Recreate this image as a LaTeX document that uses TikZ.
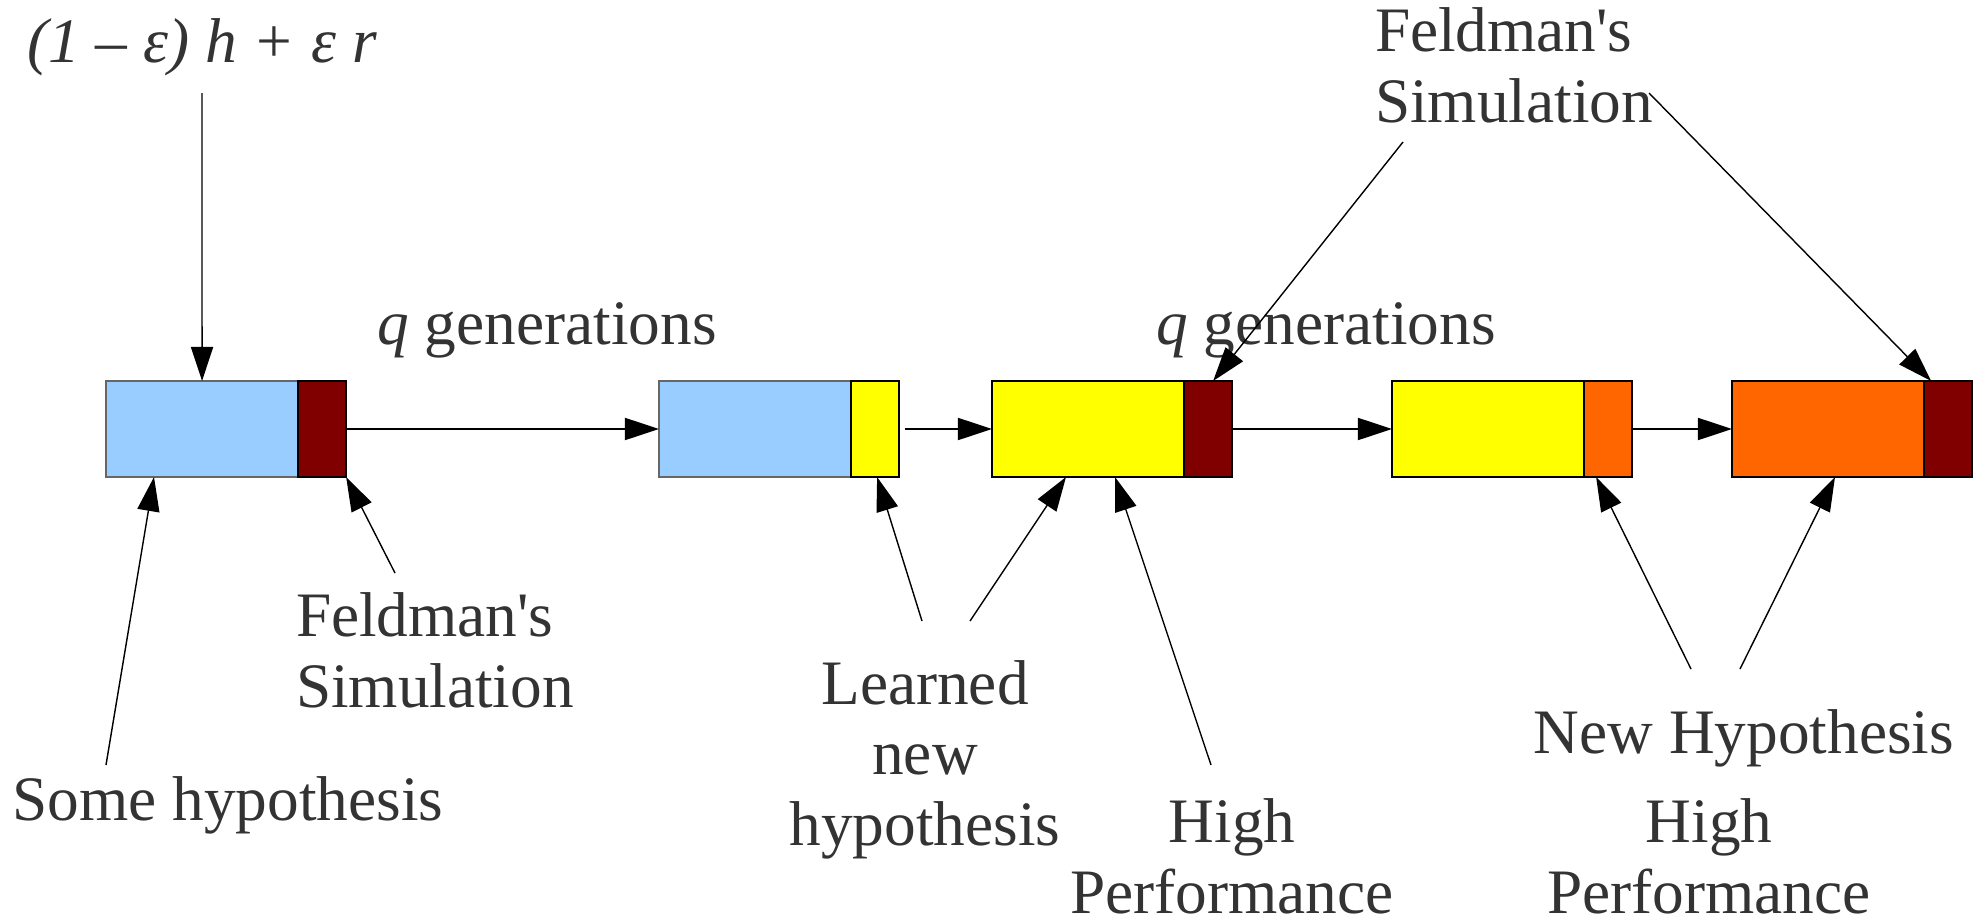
\documentclass[tikz,border=0pt]{standalone}
\usepackage{fontspec}
\setmainfont{Liberation Serif}[Ligatures=TeXOff]
\usetikzlibrary{arrows.meta,calc}
\definecolor{lblue}{HTML}{99CCFF}
\definecolor{dred}{HTML}{800000}
\definecolor{yel}{HTML}{FFFF00}
\definecolor{org}{HTML}{FF6600}
\definecolor{txt}{HTML}{333333}
\begin{document}
\begin{tikzpicture}[x=0.01cm,y=-0.01cm,
  mainbox/.style={draw=black,line width=0.4pt,minimum width=1.92cm,minimum height=0.96cm,inner sep=0pt,outer sep=0pt,anchor=west},
  sidebox/.style={mainbox,minimum width=0.48cm},
  lbl/.style={text=txt,font=\fontsize{18}{19.92}\selectfont,inner sep=0pt,outer sep=0pt},
  conn/.style={line width=0.4pt,draw=black},
  arr/.style={conn,-{Triangle[length=9.7pt,width=6.3pt]}}]
\useasboundingbox (0,0) rectangle (1984,921);

% boxes
\node[mainbox,fill=lblue,draw=black!60] (b1m) at (106,429) {};
\node[sidebox,fill=dred] (b1s) at (b1m.east) {};
\node[mainbox,fill=lblue,draw=black!60] (b2m) at (659,429) {};
\node[sidebox,fill=yel] (b2s) at (b2m.east) {};
\node[mainbox,fill=yel] (b3m) at (992,429) {};
\node[sidebox,fill=dred] (b3s) at (b3m.east) {};
\node[mainbox,fill=yel] (b4m) at (1392,429) {};
\node[sidebox,fill=org] (b4s) at (b4m.east) {};
\node[mainbox,fill=org] (b5m) at (1732,429) {};
\node[sidebox,fill=dred] (b5s) at (b5m.east) {};

% horizontal arrows
\draw[arr] (b1s.east) -- (b2m.west);
\draw[arr] ([xshift=0.06cm]b2s.east) -- (b3m.west);
\draw[arr] (b3s.east) -- (b4m.west);
\draw[arr] (b4s.east) -- (b5m.west);

% labels (multi-line nodes: base = baseline of last line)
\node[lbl,anchor=base] (f) at (202,62) {\itshape (1 – ε) h + ε r};
\node[lbl,anchor=base] (q1) at (547,344) {\textit{q} generations};
\node[lbl,anchor=base] (q2) at (1326,344) {\textit{q} generations};
\node[lbl,anchor=base west,align=left] (fs1) at (296,707) {Feldman's\\Simulation};
\node[lbl,anchor=base west,align=left] (fs2) at (1375,122) {Feldman's\\Simulation};
\node[lbl,anchor=base] (sh) at (228,820) {Some hypothesis};
\node[lbl,anchor=base,align=center] (ln) at (925,845) {Learned\\new\\hypothesis};
\node[lbl,anchor=base,align=center] (hp1) at (1232,913) {High\\Performance};
\node[lbl,anchor=base] (nh) at (1744,753) {New Hypothesis};
\node[lbl,anchor=base,align=center] (hp2) at (1709,913) {High\\Performance};

% connector free ends
\coordinate (f0) at (202,93);
\coordinate (sh0) at (106,765);
\coordinate (fs10) at (395,573);
\coordinate (ln1) at (922,621);
\coordinate (ln2) at (970,621);
\coordinate (hp10) at (1211,765);
\coordinate (fs21) at (1403,142);
\coordinate (fs22) at (1649,93);
\coordinate (nh1) at (1691,669);
\coordinate (nh2) at (1740,669);

\draw[arr] (f0) -- (b1m.north);
\draw[arr] (sh0) -- ($(b1m.south west)+(48,0)$);
\draw[arr] (fs10) -- (b1s.south east);
\draw[arr] (ln1) -- ($(b2s.south west)+(26,0)$);
\draw[arr] (ln2) -- ($(b3m.south west)+(74,0)$);
\draw[arr] (hp10) -- ($(b3m.south west)+(123,0)$);
\draw[arr] (fs21) -- ($(b3s.north west)+(29,0)$);
\draw[arr] (fs22) -- ($(b5s.north west)+(7,0)$);
\draw[arr] (nh1) -- ($(b4s.south west)+(12,0)$);
\draw[arr] (nh2) -- ($(b5m.south west)+(103,0)$);
\end{tikzpicture}
\end{document}
